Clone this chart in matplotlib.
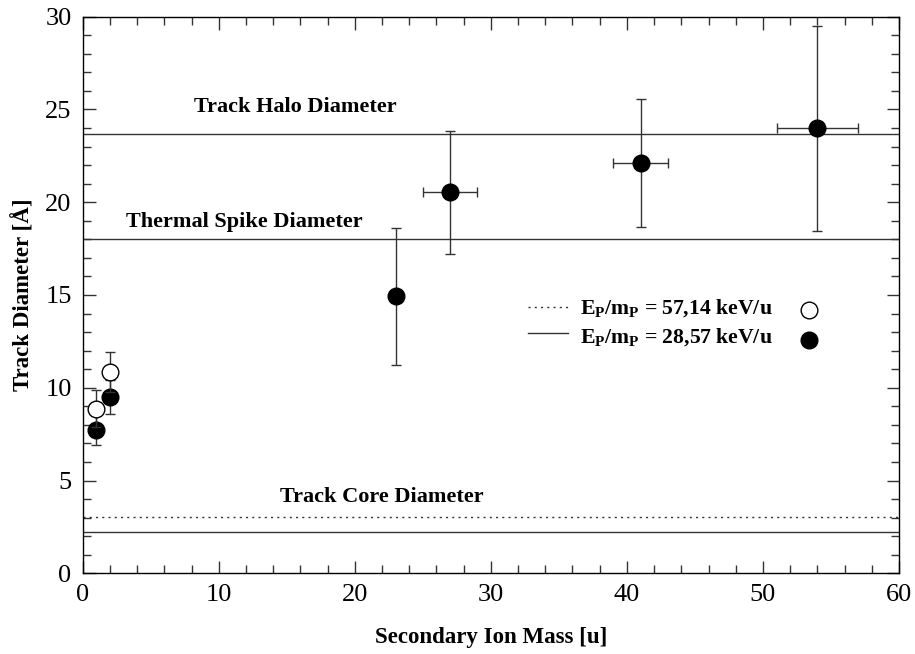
import matplotlib
matplotlib.use('Agg')
import matplotlib.pyplot as plt
from matplotlib.ticker import MultipleLocator

plt.rcParams['font.family'] = ['Liberation Serif', 'DejaVu Serif']
plt.rcParams['mathtext.fontset'] = 'custom'
plt.rcParams['mathtext.rm'] = 'Liberation Serif:bold'
plt.rcParams['mathtext.bf'] = 'Liberation Serif:bold'
plt.rcParams['mathtext.it'] = 'Liberation Serif:bold'

# open circles: 57,14 keV/u
mass_open = [1, 2]
diam_open = [8.88, 10.85]
yerr_open = [1.0, 1.1]

# filled circles: 28,57 keV/u
mass_fill = [1, 2, 23, 27, 41, 54]
diam_fill = [7.75, 9.5, 14.92, 20.53, 22.1, 24.0]
yerr_lo = [0.85, 0.9, 3.67, 3.3, 3.43, 5.55]
yerr_hi = [0.85, 0.9, 3.67, 3.33, 3.47, 5.52]
xerr_fill = [0, 0, 0, 2, 2, 3]

# reference diameters
halo = 23.7
spike = 18.0
core_fast = 3.02
core_slow = 2.24

fig = plt.figure(figsize=(9.15, 6.54), dpi=100)
ax = fig.add_axes([0.0904, 0.1234, 0.8921, 0.8511])

lc = '#333333'
ax.axhline(halo, color=lc, lw=1.0)
ax.axhline(spike, color=lc, lw=1.0)
ax.axhline(core_fast, color=lc, lw=1.0, ls=(0, (1.5, 3)))
ax.axhline(core_slow, color=lc, lw=1.0)

ax.errorbar(mass_fill, diam_fill, yerr=[yerr_lo, yerr_hi], xerr=xerr_fill,
            fmt='o', color='black', ecolor=lc, elinewidth=1.0, capsize=3.5,
            capthick=1.0, markersize=12, zorder=3)
ax.errorbar(mass_open, diam_open, yerr=yerr_open, fmt='o', mfc='white',
            mec='black', mew=1.0, ecolor=lc, elinewidth=1.0, capsize=3.5,
            capthick=1.0, markersize=12, zorder=4)

ax.text(15.6, 25.15, 'Track Halo Diameter', ha='center', va='center',
        fontsize=16, fontweight='bold')
ax.text(11.9, 18.95, 'Thermal Spike Diameter', ha='center', va='center',
        fontsize=16, fontweight='bold')
ax.text(22.0, 4.13, 'Track Core Diameter', ha='center', va='center',
        fontsize=16, fontweight='bold')

# legend drawn by hand
ax.plot([0.5455, 0.594], [0.478, 0.478], transform=ax.transAxes, color=lc,
        lw=1.0, ls=(0, (1.5, 3)))
ax.plot([0.5455, 0.594], [0.432, 0.432], transform=ax.transAxes, color=lc,
        lw=1.0)
ax.text(0.609, 0.476, r'$\mathbf{E_P/m_P}$ = 57,14 keV/u', transform=ax.transAxes,
        va='center', ha='left', fontsize=15.7, fontweight='bold')
ax.text(0.609, 0.424, r'$\mathbf{E_P/m_P}$ = 28,57 keV/u', transform=ax.transAxes,
        va='center', ha='left', fontsize=15.7, fontweight='bold')
ax.plot([0.890], [0.473], 'o', transform=ax.transAxes, mfc='white', mec='black',
        mew=1.0, markersize=12)
ax.plot([0.890], [0.419], 'o', transform=ax.transAxes, color='black',
        markersize=12)

ax.set_xlim(0, 60)
ax.set_ylim(0, 30)
ax.xaxis.set_major_locator(MultipleLocator(10))
ax.xaxis.set_minor_locator(MultipleLocator(2))
ax.yaxis.set_major_locator(MultipleLocator(5))
ax.yaxis.set_minor_locator(MultipleLocator(1))
ax.tick_params(which='both', direction='in', top=True, right=True,
               labelsize=19, width=1.0, color=lc)
ax.tick_params(which='major', length=9, pad=8)
ax.tick_params(which='minor', length=5.5)
for s in ax.spines.values():
    s.set_linewidth(1.0)

ax.set_xlabel('Secondary Ion Mass [u]', fontsize=16.5, fontweight='bold', labelpad=15)
ax.set_ylabel('Track Diameter [Å]', fontsize=16.5, fontweight='bold', labelpad=8)

fig.savefig('out.png', dpi=100)
